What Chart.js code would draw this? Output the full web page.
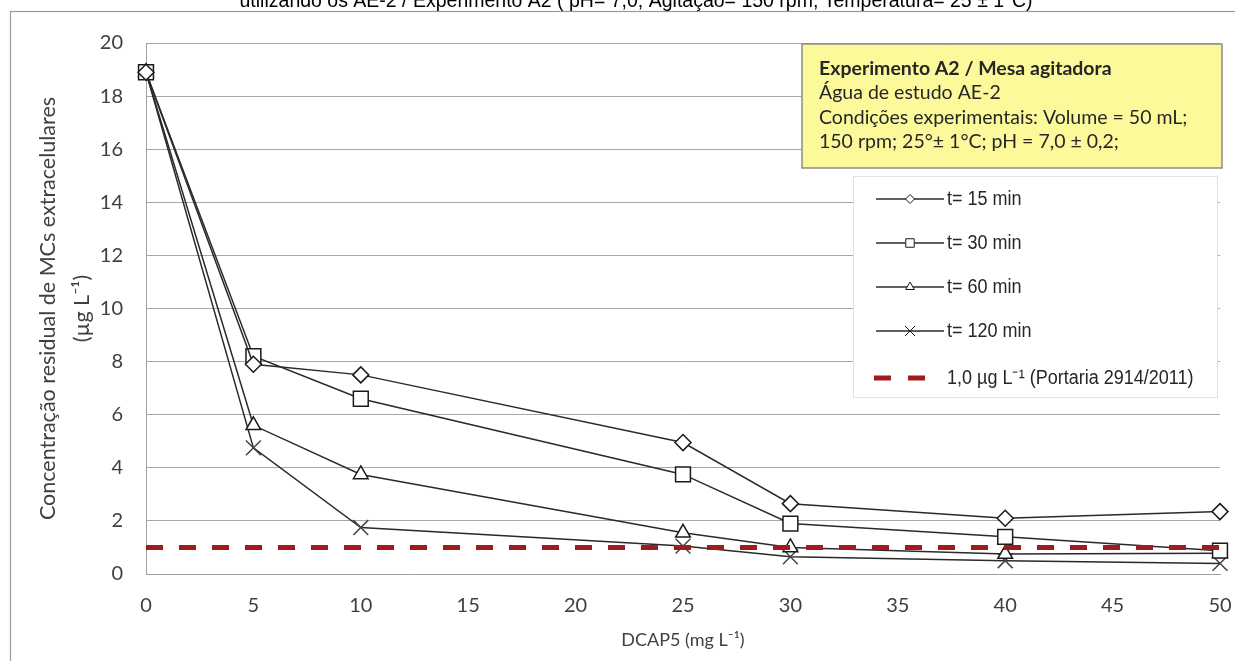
<!DOCTYPE html>
<html>
<head>
<meta charset="utf-8">
<script src="https://cdn.jsdelivr.net/npm/chart.js@4.4.1/dist/chart.umd.min.js"></script>
<style>
  html, body { margin: 0; padding: 0; background: #fff; }
  #wrap { position: relative; width: 1235px; height: 661px; }
</style>
</head>
<body>
<div id="wrap"><canvas id="c" width="1235" height="661"></canvas></div>
<script>
// ---- data ----
const doses = [0, 5, 10, 25, 30, 40, 50];               // DCAP5 (mg L-1)
const t15  = [18.9, 7.9, 7.5, 4.95, 2.65, 2.1, 2.35];
const t30  = [18.9, 8.2, 6.6, 3.75, 1.9, 1.4, 0.88];
const t60  = [18.9, 5.6, 3.75, 1.55, 1.0, 0.75, 0.78];
const t120 = [18.9, 4.75, 1.75, 1.05, 0.65, 0.5, 0.4];
const limitX = [0, 50];
const limitY = [1.0, 1.0];
const seriesLabels = ['t= 15 min', 't= 30 min', 't= 60 min', 't= 120 min'];
const limitLabel = '1,0 µg L⁻¹ (Portaria 2914/2011)';
const yTicks = [0, 2, 4, 6, 8, 10, 12, 14, 16, 18, 20];
const xTicks = [0, 5, 10, 15, 20, 25, 30, 35, 40, 45, 50];
const titleText = 'utilizando os AE-2 / Experimento A2 ( pH= 7,0; Agitação= 150 rpm; Temperatura= 25 ± 1°C)';
const noteLines = ['Experimento A2 / Mesa agitadora', 'Água de estudo AE-2',
  'Condições experimentais: Volume = 50 mL;', '150 rpm; 25°± 1°C; pH = 7,0 ± 0,2;'];
const yTitle = ['Concentração residual de MCs extracelulares', '(µg L⁻¹)'];
const xTitle = 'DCAP5 (mg L⁻¹)';

const pts = (xs, ys) => xs.map((x, i) => ({ x: x, y: ys[i] }));

const styles = [
  { pointStyle: 'rectRot', radius: 8, legendRadius: 4.5 },
  { pointStyle: 'rect', radius: 10.5, legendRadius: 6 },
  { pointStyle: 'triangle', radius: 8.5, legendRadius: 5 },
  { pointStyle: 'crossRot', radius: 10.5, legendRadius: 7 }
];
const seriesData = [t15, t30, t60, t120];

const datasets = seriesData.map((arr, i) => ({
  label: seriesLabels[i],
  data: pts(doses, arr),
  borderColor: '#2a2a2a',
  borderWidth: 1.5,
  pointStyle: styles[i].pointStyle,
  pointRadius: styles[i].radius,
  pointHoverRadius: styles[i].radius,
  pointBorderColor: i === 3 ? '#444' : '#1a1a1a',
  pointBackgroundColor: '#ffffff',
  pointBorderWidth: 1.5,
  legendRadius: styles[i].legendRadius,
  clip: false,
  order: 1
}));
datasets.push({
  label: limitLabel,
  data: pts(limitX, limitY),
  borderColor: '#A01A1E',
  borderWidth: 5,
  borderDash: [17, 16],
  borderCapStyle: 'butt',
  pointRadius: 0,
  pointHoverRadius: 0,
  clip: false,
  order: -1
});

const CAL = 'Lato, "Open Sans", sans-serif';
const ARI = '"Liberation Sans", Arial, sans-serif';

const decor = {
  id: 'decor',
  beforeDraw(chart) {
    const ctx = chart.ctx;
    ctx.save();
    ctx.fillStyle = '#fff';
    ctx.fillRect(0, 0, chart.width, chart.height);
    // outer frame (left & top visible)
    ctx.strokeStyle = '#9a9a9a';
    ctx.lineWidth = 1.2;
    ctx.strokeRect(10.5, 11.5, 1300, 700);
    // title (cut off at top)
    ctx.fillStyle = '#000';
    ctx.font = '19.5px ' + ARI;
    ctx.textAlign = 'center';
    ctx.textBaseline = 'alphabetic';
    ctx.fillText(titleText, 636, 7);
    // axis titles
    const ca = chart.chartArea;
    ctx.fillStyle = '#404040';
    ctx.textBaseline = 'middle';
    ctx.font = '18px ' + CAL;
    ctx.fillText(xTitle, (ca.left + ca.right) / 2, 640);
    const cy = (ca.top + ca.bottom) / 2;
    ctx.font = '21.5px ' + CAL;
    [48, 82].forEach((x, i) => {
      ctx.save();
      ctx.translate(x, cy);
      ctx.rotate(-Math.PI / 2);
      ctx.fillText(yTitle[i], 0, 0);
      ctx.restore();
    });
    ctx.restore();
  },
  afterDraw(chart) {
    const ctx = chart.ctx;
    ctx.save();
    // annotation box
    ctx.fillStyle = '#FCF99B';
    ctx.fillRect(802, 44, 420, 124);
    ctx.strokeStyle = '#8c8c8c';
    ctx.lineWidth = 1.5;
    ctx.strokeRect(802, 44, 420, 124);
    ctx.fillStyle = '#262626';
    ctx.textAlign = 'left';
    ctx.textBaseline = 'middle';
    const ny = [69, 93, 118, 142];
    noteLines.forEach((t, i) => {
      ctx.font = (i === 0 ? 'bold ' : '') + '19.5px ' + CAL;
      ctx.fillText(t, 819, ny[i]);
    });
    // legend box
    ctx.fillStyle = '#ffffff';
    ctx.fillRect(853, 176, 364, 221);
    ctx.strokeStyle = '#e2e2e2';
    ctx.lineWidth = 1;
    ctx.strokeRect(853.5, 176.5, 364, 221);
    const ly = [199, 243, 287, 331, 378];
    chart.data.datasets.forEach((ds, i) => {
      const y = ly[i];
      if (i < 4) {
        ctx.strokeStyle = ds.borderColor;
        ctx.lineWidth = 1.3;
        ctx.setLineDash([]);
        ctx.beginPath();
        ctx.moveTo(876, y); ctx.lineTo(944, y);
        ctx.stroke();
        ctx.fillStyle = '#fff';
        ctx.strokeStyle = '#1a1a1a';
        ctx.lineWidth = 1;
        Chart.helpers.drawPoint(ctx, { pointStyle: ds.pointStyle, radius: ds.legendRadius, rotation: 0, borderWidth: 1 }, 910, y);
      } else {
        ctx.strokeStyle = ds.borderColor;
        ctx.lineWidth = 5;
        ctx.lineCap = 'butt';
        ctx.setLineDash([17, 17]);
        ctx.beginPath();
        ctx.moveTo(874, y); ctx.lineTo(926, y);
        ctx.stroke();
        ctx.setLineDash([]);
      }
      ctx.fillStyle = '#262626';
      ctx.font = '20px ' + ARI;
      ctx.save();
      ctx.translate(947, y);
      ctx.scale(0.9, 1);
      ctx.fillText(ds.label, 0, 0);
      ctx.restore();
    });
    ctx.restore();
  }
};

new Chart(document.getElementById('c'), {
  type: 'line',
  data: { datasets: datasets },
  plugins: [decor],
  options: {
    responsive: false,
    animation: false,
    events: [],
    layout: { padding: { top: 43, right: 15, left: 0, bottom: 0 } },
    plugins: { legend: { display: false }, title: { display: false }, tooltip: { enabled: false } },
    scales: {
      x: {
        type: 'linear', min: 0, max: 50,
        afterBuildTicks(s) { s.ticks = xTicks.map(v => ({ value: v })); },
        afterFit(s) { s.height = 87; s.paddingRight = 0; s.paddingLeft = 0; },
        grid: { display: false, drawTicks: false },
        border: { display: true, color: '#a0a0a0', width: 1 },
        ticks: { padding: 20, color: '#404040', font: { family: CAL, size: 20 }, maxRotation: 0 }
      },
      y: {
        type: 'linear', min: 0, max: 20,
        afterBuildTicks(s) { s.ticks = yTicks.map(v => ({ value: v })); },
        afterFit(s) { s.width = 146; s.paddingTop = 0; s.paddingBottom = 0; },
        grid: { color: '#a6a6a6', lineWidth: 1, drawTicks: false },
        border: { display: true, color: '#a0a0a0', width: 1 },
        ticks: { padding: 23, color: '#404040', font: { family: CAL, size: 20 } }
      }
    }
  }
});
</script>
</body>
</html>
